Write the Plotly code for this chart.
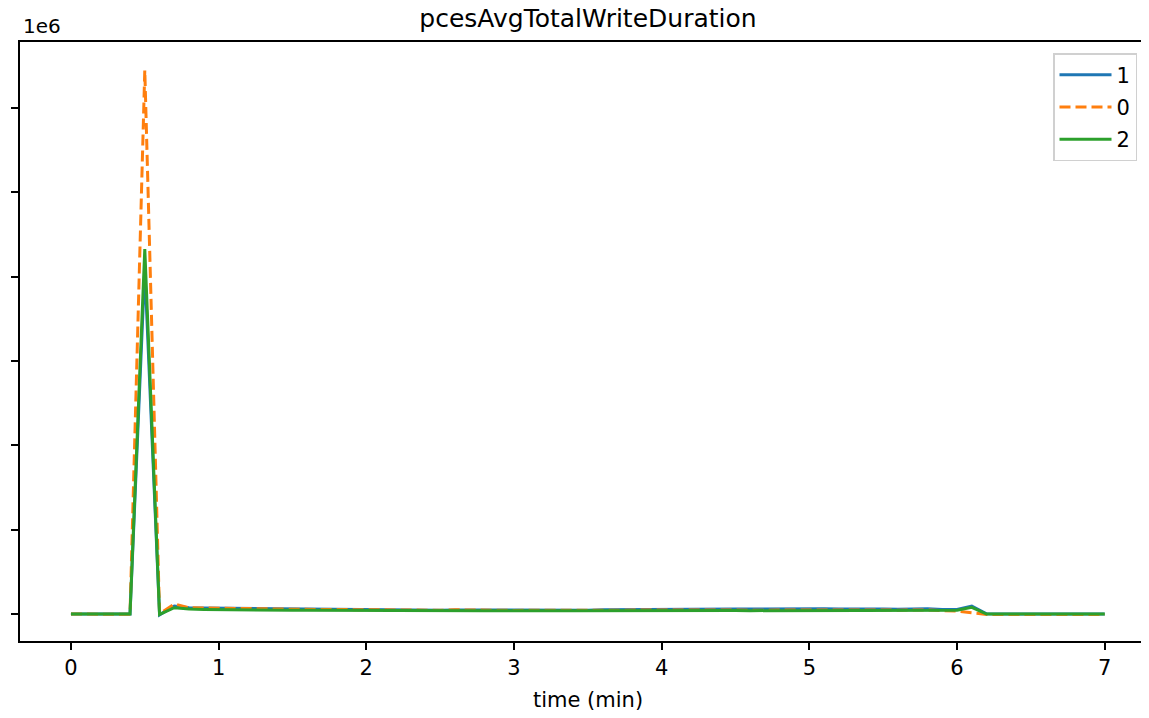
import plotly.graph_objects as go

# time grid (minutes)
time_min = [round(0.1 * i, 1) for i in range(71)]

# values in units of 1e6
series_1 = [0, 0, 0, 0, 0, 4.10, -0.01, 0.095, 0.075, 0.072,
            0.070, 0.068, 0.066, 0.063, 0.062, 0.058, 0.056, 0.055, 0.052, 0.050,
            0.048, 0.050, 0.052, 0.048, 0.045, 0.046, 0.048, 0.047, 0.045, 0.046,
            0.044, 0.047, 0.045, 0.043, 0.045, 0.046, 0.050, 0.052, 0.053, 0.055,
            0.058, 0.058, 0.057, 0.058, 0.058, 0.060, 0.060, 0.062, 0.062, 0.064,
            0.065, 0.063, 0.060, 0.062, 0.062, 0.060, 0.058, 0.060, 0.062, 0.055,
            0.055, 0.095, 0.002, 0.0, 0.0, 0.0, 0.0, 0.0, 0.0, 0.0, 0.0]
series_0 = [0, 0, -0.005, -0.005, -0.003, 6.45, 0.0, 0.12, 0.075, 0.072,
            0.068, 0.066, 0.064, 0.062, 0.060, 0.057, 0.055, 0.054, 0.052, 0.050,
            0.047, 0.049, 0.050, 0.046, 0.044, 0.045, 0.050, 0.046, 0.044, 0.045,
            0.043, 0.046, 0.044, 0.042, 0.043, 0.044, 0.046, 0.047, 0.046, 0.047,
            0.048, 0.047, 0.046, 0.047, 0.048, 0.047, 0.046, 0.047, 0.048, 0.047,
            0.048, 0.047, 0.046, 0.047, 0.048, 0.047, 0.046, 0.047, 0.048, 0.040,
            0.035, 0.015, -0.005, -0.005, -0.005, -0.005, -0.005, -0.005, -0.005, -0.005, -0.005]
series_2 = [0, 0, 0, 0, 0, 4.33, -0.005, 0.075, 0.060, 0.055,
            0.052, 0.050, 0.048, 0.046, 0.045, 0.044, 0.044, 0.043, 0.043, 0.042,
            0.040, 0.042, 0.043, 0.040, 0.039, 0.040, 0.041, 0.040, 0.039, 0.040,
            0.038, 0.040, 0.039, 0.038, 0.039, 0.040, 0.041, 0.040, 0.041, 0.040,
            0.042, 0.041, 0.040, 0.041, 0.042, 0.041, 0.040, 0.041, 0.042, 0.041,
            0.043, 0.042, 0.041, 0.042, 0.043, 0.042, 0.041, 0.042, 0.043, 0.045,
            0.045, 0.080, 0.0, 0.0, 0.0, 0.0, 0.0, 0.0, 0.0, 0.0, 0.0]

series_names = ["1", "0", "2"]
series_vals = [series_1, series_0, series_2]
colors = ["#1f77b4", "#ff7f0e", "#2ca02c"]
dashes = ["solid", "11px,5px", "solid"]

SCALE = 1e6
fig = go.Figure()
for name, vals, c, d in zip(series_names, series_vals, colors, dashes):
    fig.add_trace(go.Scatter(
        x=time_min, y=[v * SCALE for v in vals], mode="lines", name=name,
        legendgroup=name,
        line=dict(color=c, width=3, dash=d)))

# page body has an 8px margin; figure coordinates = screen - 8
OFF = 8
W, H = 1149 - OFF, 718 - OFF
L, T = 20 - OFF, 42 - OFF
BOT = 641 - OFF
B = H - BOT
PW, PH = W - L, BOT - T


def px(sx):
    return (sx - OFF - L) / PW


def py(sy):
    return (BOT - (sy - OFF)) / PH


fig.update_layout(
    width=W, height=H,
    margin=dict(l=L, r=0, t=T, b=B),
    plot_bgcolor="white", paper_bgcolor="white",
    font=dict(family="DejaVu Sans", size=21, color="black"),
    title=dict(text="pcesAvgTotalWriteDuration", x=(588 - OFF) / W, xref="container",
               xanchor="center", y=1 - 1 / H, yref="container", yanchor="top",
               font=dict(size=25)),
    showlegend=True,
    legend=dict(x=px(1053), y=py(53), xanchor="left", yanchor="top",
                bordercolor="#d0d0d0", borderwidth=1.5, bgcolor="white",
                font=dict(size=21), traceorder="grouped", tracegroupgap=2,
                itemwidth=52),
    xaxis=dict(range=[-0.345, 7.30], tickmode="array", tickvals=list(range(8)),
               ticktext=[str(i) for i in range(8)],
               showgrid=False, zeroline=False, showline=True, linecolor="black",
               linewidth=2, mirror=True, ticks="outside", ticklen=7, tickwidth=1.6,
               tickcolor="black", tickfont=dict(size=21)),
    yaxis=dict(range=[-0.32 * SCALE, 6.785 * SCALE], tickmode="array",
               tickvals=[i * SCALE for i in range(7)], showticklabels=False,
               showgrid=False, zeroline=False, showline=True, linecolor="black",
               linewidth=2, ticks="outside", ticklen=7, tickwidth=1.6, tickcolor="black"),
    annotations=[
        dict(text="1e6", xref="paper", yref="paper", x=0, y=1, xanchor="left",
             yanchor="bottom", xshift=1, yshift=2, showarrow=False, font=dict(size=20)),
        dict(text="time (min)", xref="paper", yref="paper", x=px(588),
             y=py(700), xanchor="center", yanchor="middle", showarrow=False,
             font=dict(size=21)),
    ],
)
fig.write_html("out.html", config={"displayModeBar": False})
